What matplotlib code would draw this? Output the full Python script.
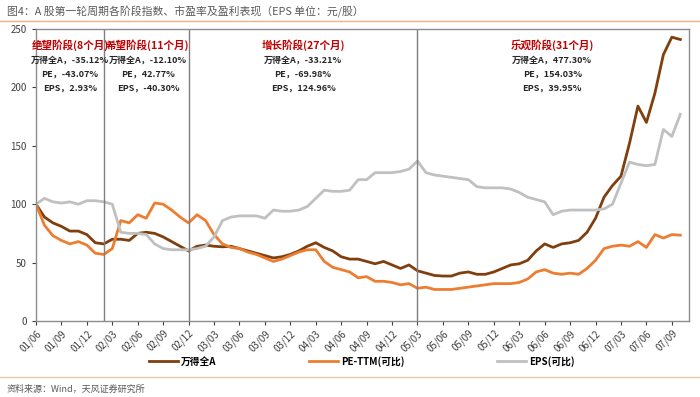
import matplotlib.pyplot as plt
import numpy as np
from matplotlib.lines import Line2D

plt.rcParams['font.family'] = ['Noto Sans CJK SC', 'DejaVu Sans']
plt.rcParams['axes.unicode_minus'] = False

# 月度数据, 2001/06 起 (=100)
wind_all_a = [100, 89, 84, 81, 77, 77, 74, 67, 66, 70, 70, 69, 75, 76, 75, 72, 68, 64, 60,
              64, 65, 64, 63.5, 64, 62, 60, 58, 56, 54, 55, 57, 60, 64, 67, 63, 60, 55, 53,
              53, 51, 49, 51, 48, 45, 48, 43, 41, 39, 38.5, 38.5, 41, 42, 40, 40, 42, 45,
              48, 49, 52, 60, 66, 63, 66, 67, 69, 76, 88, 106, 116, 124, 152, 184, 170,
              195, 228, 243, 241]
pe_ttm = [100, 82, 73, 69, 66, 68, 65, 58, 57, 62, 86, 84, 91, 88, 101, 100, 95, 89, 84,
          91, 86, 74, 66, 63, 62, 59, 57, 54, 51, 53, 56, 59, 61, 61, 51, 46, 44, 42, 37,
          38, 34, 34, 33, 31, 32, 28, 29, 27, 27, 27, 28, 29, 30, 31, 32, 32, 32, 33, 36,
          42, 44, 41, 40, 41, 40, 45, 52, 62, 64, 65, 64, 68, 63, 74, 71, 74, 73.5]
eps = [100, 105, 102, 101, 102, 100, 103, 103, 102, 100, 76, 75, 75, 74, 66, 62, 61, 61,
       61, 62, 64, 72, 86, 89, 90, 90, 90, 88, 95, 94, 94, 95, 98, 105, 112, 111, 111, 112,
       121, 121, 127, 127, 127, 128, 130, 137, 127, 125, 124, 123, 122, 121, 115, 114, 114,
       114, 113, 110, 106, 104, 102, 91, 94, 95, 95, 95, 95, 96, 100, 118, 136, 134, 133,
       134, 164, 158, 177]

# 阶段分界 (月份序号)
phase_bounds = [8, 18, 45]
phase_titles = ['绝望阶段(8个月)', '希望阶段(11个月)', '增长阶段(27个月)', '乐观阶段(31个月)']
phase_lines = [
    ['万得全A，-35.12%', 'PE，-43.07%', 'EPS，2.93%'],
    ['万得全A，-12.10%', 'PE，42.77%', 'EPS，-40.30%'],
    ['万得全A，-33.21%', 'PE，-69.98%', 'EPS，124.96%'],
    ['万得全A，477.30%', 'PE，154.03%', 'EPS，39.95%'],
]
phase_centers = [4.0, 13.2, 31.5, 60.9]

months = np.arange(len(wind_all_a))
tick_pos = np.arange(0, 76, 3)
tick_labels = ['%02d/%02d' % ((1 + (5 + m) // 12) % 100, (5 + m) % 12 + 1) for m in tick_pos]

c_brown = '#7F3F0F'
c_orange = '#ED7D31'
c_gray = '#C0C0C0'

fig = plt.figure(figsize=(7, 3.97), dpi=100)
ax = fig.add_axes([0.0514, 0.1914, 0.9326, 0.7356])

ax.plot(months, wind_all_a, color=c_brown, lw=2)
ax.plot(months, pe_ttm, color=c_orange, lw=2)
ax.plot(months, eps, color=c_gray, lw=2)

for b in phase_bounds:
    ax.axvline(b, color='#7F7F7F', lw=1)

for cx, t, lines in zip(phase_centers, phase_titles, phase_lines):
    ax.text(cx, 236, t, color='#C00000', fontsize=7.6, fontweight='bold', ha='center', va='center')
    for i, s in enumerate(lines):
        ax.text(cx, 223 - i * 12, s, color='#262626', fontsize=6.5, fontweight='bold',
                ha='center', va='center')

ax.set_xlim(0, 77)
ax.set_ylim(0, 250)
ax.set_yticks(range(0, 251, 50))
ax.set_xticks(tick_pos)
ax.set_xticklabels(tick_labels, rotation=45, ha='right', rotation_mode='anchor')
ax.tick_params(axis='both', labelsize=7, colors='#404040', length=3, width=0.8)
ax.tick_params(axis='x', pad=2)
for s in ax.spines.values():
    s.set_color('#8C8C8C')
    s.set_linewidth(1)

handles = [Line2D([], [], color=c_brown, lw=2),
           Line2D([], [], color=c_orange, lw=2),
           Line2D([], [], color=c_gray, lw=2)]
leg = fig.legend(handles, ['万得全A', 'PE-TTM(可比)', 'EPS(可比)'], loc='center',
                 bbox_to_anchor=(0.517, 0.09), ncol=3, frameon=False, fontsize=7,
                 handlelength=3, columnspacing=9.5, handletextpad=0.3)
for t in leg.get_texts():
    t.set_fontweight('bold')

fig.text(0.01, 0.97, '图4：A 股第一轮周期各阶段指数、市盈率及盈利表现（EPS 单位：元/股）',
         fontsize=7.8, color='#595959', va='center')
fig.add_artist(Line2D([0, 1], [0.947, 0.947], color='#F4B183', lw=1))
fig.add_artist(Line2D([0, 1], [0.05, 0.05], color='#E6C9A8', lw=1))
fig.text(0.01, 0.02, '资料来源：Wind，天风证券研究所', fontsize=6.5, color='#595959', va='center')

fig.savefig('out.png', dpi=100)
